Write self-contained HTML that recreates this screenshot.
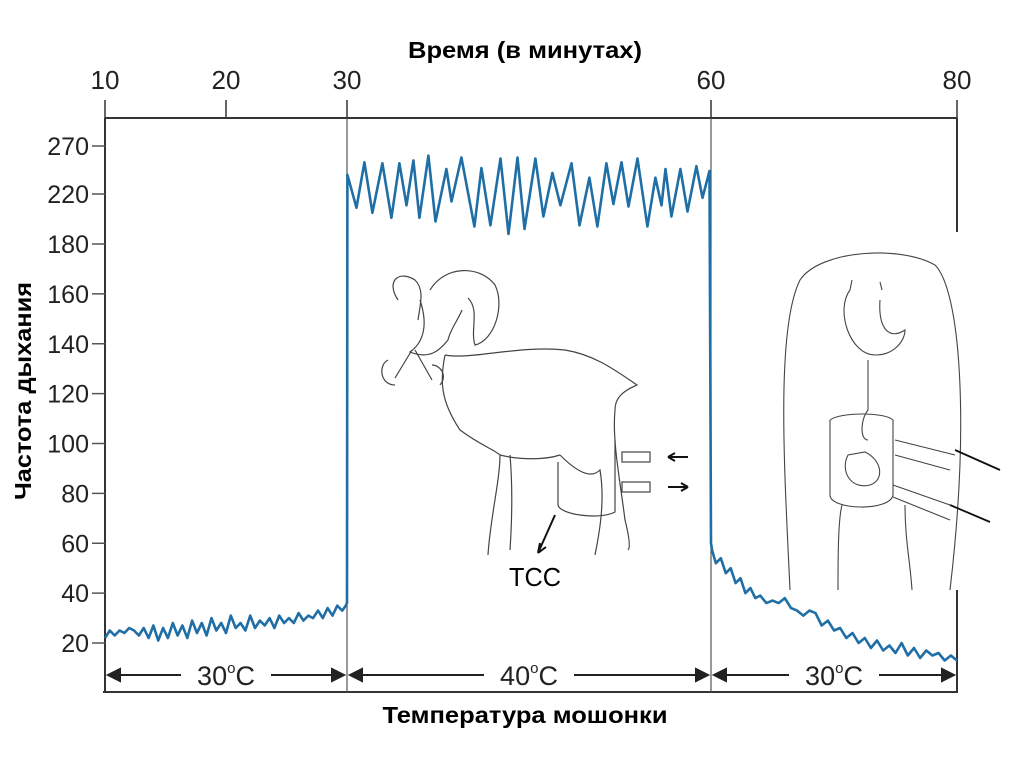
<!DOCTYPE html>
<html><head><meta charset="utf-8"><style>
html,body{margin:0;padding:0;background:#fff;}
svg{display:block;font-family:"Liberation Sans",sans-serif;}
</style></head><body>
<svg id="chart" width="1024" height="767" viewBox="0 0 1024 767" xmlns="http://www.w3.org/2000/svg">
<rect width="1024" height="767" fill="#fff"/>
<text x="525" y="58" text-anchor="middle" font-size="23" font-weight="bold" textLength="234" lengthAdjust="spacingAndGlyphs">Время (в минутах)</text>
<text transform="translate(31,391) rotate(-90)" text-anchor="middle" font-size="23" font-weight="bold" textLength="218" lengthAdjust="spacingAndGlyphs">Частота дыхания</text>
<text x="525" y="723" text-anchor="middle" font-size="23" font-weight="bold" textLength="285" lengthAdjust="spacingAndGlyphs">Температура мошонки</text>
<g id="frame" stroke="#333" stroke-width="2" fill="none">
<line x1="105" y1="118" x2="957" y2="118"/>
<line x1="105" y1="118" x2="105" y2="693"/>
<line x1="103" y1="692" x2="958" y2="692"/>
<line x1="957" y1="118" x2="957" y2="232"/>
<line x1="957" y1="590" x2="957" y2="692"/>
</g>
<g id="illus" stroke="#444" stroke-width="1.2" fill="none">
<path d="M398,300 C385,280 400,270 415,280 C425,290 420,305 418,320 M430,290 C445,265 480,265 495,285 C505,305 495,340 475,345 C470,330 480,310 468,298 M420,300 C430,330 420,345 410,352 C430,360 440,350 448,340 C450,330 458,320 462,310"/>
<path d="M445,355 C470,360 520,345 565,350 C595,355 615,370 637,385 C620,392 615,400 615,410 C612,440 620,480 625,520 C630,540 630,548 628,550 M445,355 C440,380 440,400 460,430 C480,445 495,450 500,455 C500,480 490,520 488,555 M560,455 C575,470 590,480 600,470 C605,500 600,530 595,555 M500,455 C520,460 545,460 560,455 M510,455 C513,490 512,520 510,550"/>
<path d="M558,462 L558,505 C560,515 600,520 615,512 L615,440"/>
<rect x="622" y="452" width="28" height="10"/>
<rect x="622" y="482" width="28" height="10"/>
<path d="M555,515 L538,553 M538,553 l2,-10 M538,553 l8,-6" stroke="#111" stroke-width="2"/>
<path d="M688,457 L668,457 M668,457 l7,-4 M668,457 l7,4 M668,487 L688,487 M688,487 l-7,-4 M688,487 l-7,4" stroke="#111" stroke-width="2"/>
<path d="M388,360 C378,365 380,385 395,385 M432,365 C440,365 448,375 440,385 M412,350 L395,378 M415,350 L432,380"/>
</g>
<text x="535" y="586" text-anchor="middle" font-size="26" textLength="52" lengthAdjust="spacingAndGlyphs">TCC</text>
<g id="rear" stroke="#444" stroke-width="1.1" fill="none">
<path d="M790,590 C785,480 775,330 800,280 C820,250 900,245 935,265 C960,290 970,420 950,590 M838,590 C838,560 838,520 842,505 M905,505 C905,540 910,560 912,590"/>
<path d="M850,290 C835,310 850,355 875,355 C895,355 905,340 905,330 C890,340 878,330 880,300 M850,290 L852,280 M880,282 L882,290"/>
<path d="M868,360 L868,410 C860,420 860,440 868,440"/>
<path d="M830,420 L830,495 C830,510 890,512 893,495 L893,420 M830,420 C840,412 885,412 893,420"/>
<path d="M848,455 C840,470 850,490 870,485 C885,480 882,460 865,452 Z"/>
<path d="M895,440 L955,455 M895,455 L950,470 M893,485 L950,505 M893,497 L950,520"/>
<path d="M955,450 L1000,470 M950,505 L990,522" stroke="#111" stroke-width="1.8"/>
</g>
</svg>
<script>
// ---- data ----
const xTickValues = [10, 20, 30, 60, 80];
const yTickValues = [20, 40, 60, 80, 100, 120, 140, 160, 180, 220, 270];
const lowTimes = [10,10.4,10.8,11.2,11.6,12,12.4,12.8,13.2,13.6,14,14.4,14.8,15.2,15.6,16,16.4,16.8,17.2,17.6,18,18.4,18.8,19.2,19.6,20,20.4,20.8,21.2,21.6,22,22.4,22.8,23.2,23.6,24,24.4,24.8,25.2,25.6,26,26.4,26.8,27.2,27.6,28,28.4,28.8,29.2,29.6,29.9];
const lowValues = [22,25,23,25,24,26,25,23,26,22,27,21,26,22,28,23,27,22,29,24,28,23,30,25,28,24,31,26,28,25,31,26,29,27,30,26,31,28,30,28,32,29,31,30,33,30,34,31,35,33,35];
const highTimes = [30.03,30.78,31.43,32.09,32.92,33.66,34.32,34.9,35.47,35.97,36.71,37.29,38.19,38.61,39.43,40.5,41.08,41.82,42.65,43.31,44.05,44.63,45.53,46.19,46.93,47.59,48.5,49.16,49.98,50.64,51.38,51.96,52.62,53.2,53.94,54.76,55.42,55.92,56.25,56.74,57.48,58.06,58.8,59.3,59.88];
const highValues = [240,209,253,205,252,201,252,211,255,201,260,198,246,214,258,194,247,195,257,188,258,192,257,202,242,211,252,195,237,194,252,212,253,210,257,194,237,211,246,202,246,206,249,217,244];
const decayTimes = [60.1,60.4,60.8,61.2,61.6,62,62.4,62.8,63.2,63.6,64,64.5,65,65.5,66,66.5,67,67.5,68,68.5,69,69.5,70,70.5,71,71.5,72,72.5,73,73.5,74,74.5,75,75.5,76,76.5,77,77.5,78,78.5,79,79.5,80];
const decayValues = [57,52,54,48,50,44,46,40,42,38,39,36,37,36,38,34,33,31,33,32,27,29,25,26,22,24,20,22,18,21,17,19,16,20,15,18,14,17,15,16,13,15,13];
// ---- scales ----
const xDomain=[10,30,60,80], xRange=[105,347,711,957];
const yDomain=[20,180,220,270], yRange=[643,244,194,146];
function pw(v,d,r){for(let i=0;i<d.length-1;i++){if(v<=d[i+1]||i==d.length-2){return r[i]+(v-d[i])*(r[i+1]-r[i])/(d[i+1]-d[i]);}}}
const xs=v=>pw(v,xDomain,xRange);
const ys=v=>pw(v,yDomain,yRange);
const NS="http://www.w3.org/2000/svg", svg=document.getElementById('chart');
function mk(t,a,p){const e=document.createElementNS(NS,t);for(const k in a)e.setAttribute(k,a[k]);(p||svg).appendChild(e);return e;}
xTickValues.forEach(v=>{
 const t=mk('text',{x:xs(v),y:89,'text-anchor':'middle','font-size':26,fill:'#222'});t.textContent=v;
 
 
 const l=mk('line',{x1:xs(v),y1:100,x2:xs(v),y2:118,stroke:'#333','stroke-width':1.5});
 
 
});
[30,60].forEach(v=>{
 const l=mk('line',{x1:xs(v),y1:118,x2:xs(v),y2:692,stroke:'#555','stroke-width':1.2});
 
 
});
yTickValues.forEach(v=>{
 const t=mk('text',{x:89,y:ys(v)+9,'text-anchor':'end','font-size':25,fill:'#222'});t.textContent=v;
 
 
 const l=mk('line',{x1:92,y1:ys(v),x2:105,y2:ys(v),stroke:'#555','stroke-width':1.5});
 
 
});
const T=[...lowTimes,30,...highTimes,60,...decayTimes];
const V=[...lowValues,36,...highValues,60,...decayValues];
const d=T.map((t,i)=>(i?'L':'M')+xs(t).toFixed(1)+','+ys(V[i]).toFixed(1)).join(' ');
const path=mk('path',{d:d,fill:'none',stroke:'#1f6fa6','stroke-width':2.6,'stroke-linejoin':'round'});


const phases=[[10,30,'30'],[30,60,'40'],[60,80,'30']];
phases.forEach(p=>{
 const a=xs(p[0])+3,b=xs(p[1])-3,m=(a+b)/2,y=675;
 const g=mk('g',{stroke:'#222','stroke-width':2,fill:'#222'});
 
 
 mk('line',{x1:a,y1:y,x2:m-45,y2:y},g);mk('line',{x1:m+45,y1:y,x2:b,y2:y},g);
 mk('path',{d:`M${a},${y} l12,-6 l0,12 z`},g);mk('path',{d:`M${b},${y} l-12,-6 l0,12 z`},g);
 const t=mk('text',{x:m,y:y+10,'text-anchor':'middle','font-size':27,fill:'#222'});
 t.innerHTML=p[2]+'<tspan font-size="15" dy="-12">o</tspan><tspan dy="12">C</tspan>';
 
 
});
</script>
</body></html>
